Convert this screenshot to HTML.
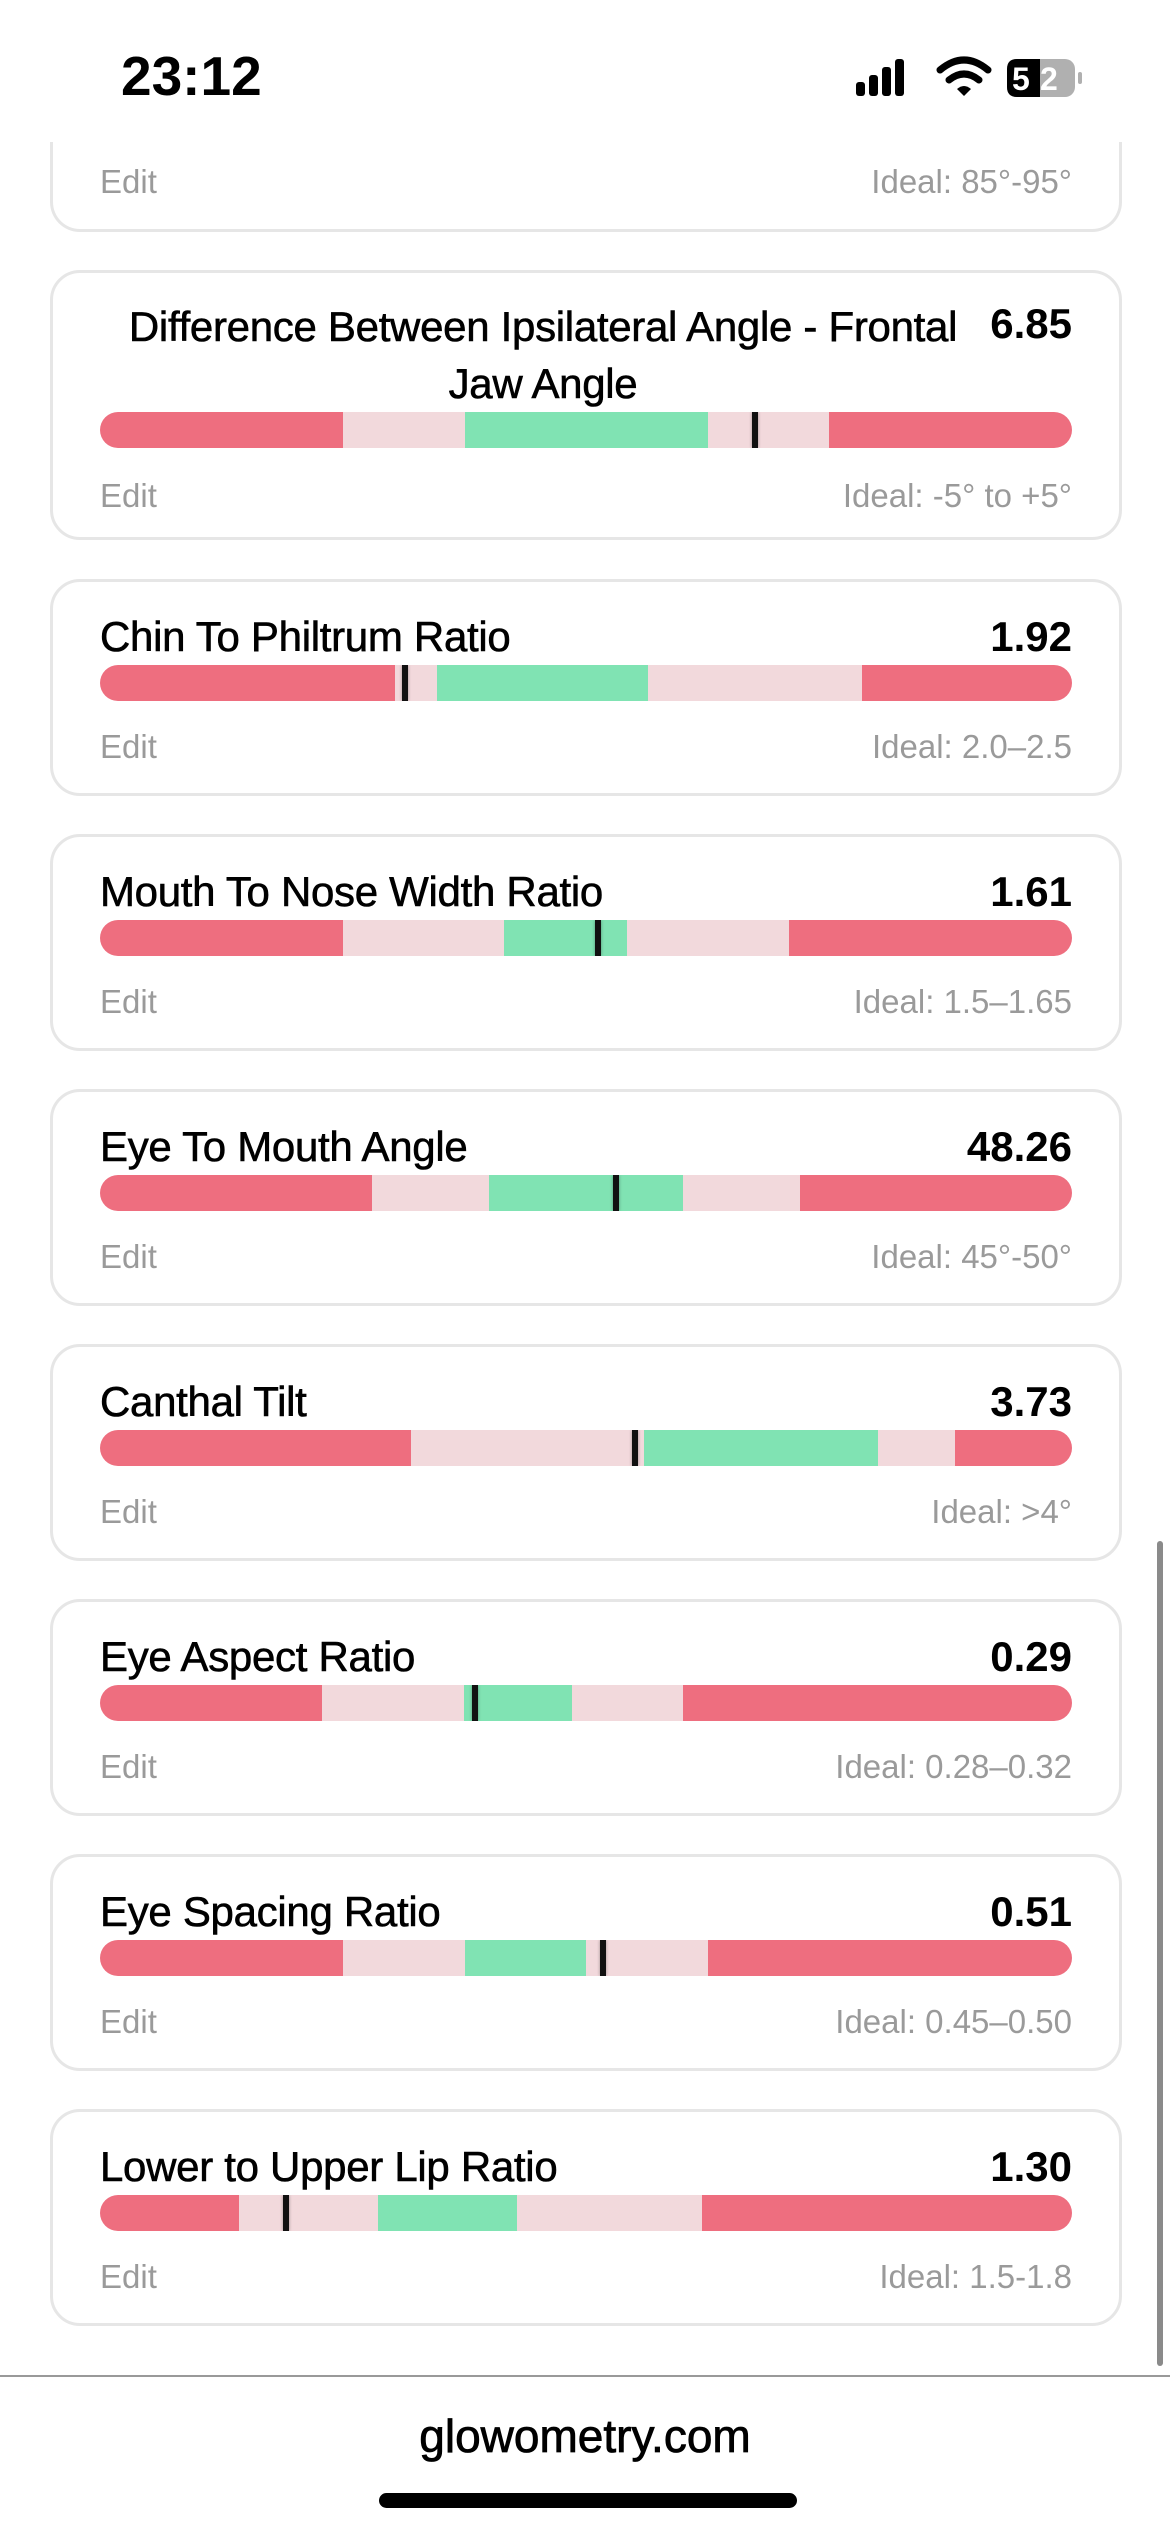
<!DOCTYPE html>
<html><head><meta charset="utf-8"><style>
*{margin:0;padding:0;box-sizing:border-box}
body{width:1170px;height:2532px;background:#fff;position:relative;overflow:hidden;font-family:"Liberation Sans",sans-serif;color:#000}
.card{position:absolute;left:50px;width:1072px;border:3px solid #e6e6e6;border-radius:30px;background:#fff}
.t{position:absolute;left:47px;font-size:42px;line-height:46px;-webkit-text-stroke:0.6px #000;letter-spacing:-0.3px}
.v{position:absolute;right:47px;font-size:42px;line-height:46px;font-weight:bold}
.bar{position:absolute;left:47px;width:972px;height:36px;border-radius:18px;overflow:hidden;display:flex}
.bar div{height:100%}
.r{background:#ee6e7f}.l{background:#f2d9dc}.g{background:#80e3b3}
.m{position:absolute;top:0;width:6px;height:36px;background:#111;box-shadow:0 0 3px rgba(0,0,0,.35)}
.e{position:absolute;left:47px;font-size:33px;color:#9a9a9a;line-height:36px}
.i{position:absolute;right:47px;font-size:33px;color:#9a9a9a;line-height:36px}
</style></head><body>
<div style="position:absolute;left:121px;top:46px;font-size:55px;font-weight:bold;line-height:60px">23:12</div>
<svg style="position:absolute;left:850px;top:56px" width="250" height="44" viewBox="0 0 250 44">
<rect x="6" y="26" width="9" height="14" rx="3"/><rect x="19" y="19" width="9" height="21" rx="3"/><rect x="32" y="11" width="9" height="29" rx="3"/><rect x="45" y="3" width="9" height="37" rx="3"/>
<path d="M90 14 Q114 -6 138 14" stroke="#000" stroke-width="7" fill="none" stroke-linecap="round"/>
<path d="M99 24 Q114 12 129 24" stroke="#000" stroke-width="7" fill="none" stroke-linecap="round"/>
<path d="M107 33 L114 40 L121 33 Q114 27 107 33Z"/>
<rect x="157" y="3" width="68" height="38" rx="10" fill="#b0b0b0"/>
<path d="M167 3 H190 V41 H167 Q157 41 157 31 V13 Q157 3 167 3Z" fill="#000"/>
<text x="162" y="34" font-size="32" font-weight="bold" fill="#fff" font-family="Liberation Sans">5</text>
<text x="190" y="34" font-size="32" font-weight="bold" fill="#fff" font-family="Liberation Sans">2</text>
<rect x="228" y="16" width="4" height="12" rx="2" fill="#b0b0b0"/>
</svg>

<div class="card" style="top:142px;height:90px;border-top:none;border-radius:0 0 30px 30px">
<div class="e" style="top:22px">Edit</div><div class="i" style="top:22px">Ideal: 85°-95°</div></div>

<div class="card" style="top:270px;height:270px">
<div style="position:absolute;left:40px;width:900px;top:25px;text-align:center;font-size:42px;line-height:57px;-webkit-text-stroke:0.6px #000;letter-spacing:-0.3px">Difference Between Ipsilateral Angle - Frontal<br>Jaw Angle</div>
<div class="v" style="top:28px">6.85</div>
<div class="bar" style="top:139px"><div class="r" style="width:25%"></div><div class="l" style="width:12.5%"></div><div class="g" style="width:25%"></div><div class="l" style="width:12.5%"></div><div class="r" style="width:25%"></div><div class="m" style="left:652px"></div></div>
<div class="e" style="top:205px">Edit</div><div class="i" style="top:205px">Ideal: -5° to +5°</div></div>

<div class="card" style="top:579px;height:217px">
<div class="t" style="top:32px">Chin To Philtrum Ratio</div><div class="v" style="top:32px">1.92</div>
<div class="bar" style="top:83px"><div class="r" style="width:30.4%"></div><div class="l" style="width:4.3%"></div><div class="g" style="width:21.7%"></div><div class="l" style="width:22%"></div><div class="r" style="width:21.6%"></div><div class="m" style="left:302px"></div></div>
<div class="e" style="top:147px">Edit</div><div class="i" style="top:147px">Ideal: 2.0–2.5</div></div>

<div class="card" style="top:834px;height:217px">
<div class="t" style="top:32px">Mouth To Nose Width Ratio</div><div class="v" style="top:32px">1.61</div>
<div class="bar" style="top:83px"><div class="r" style="width:25%"></div><div class="l" style="width:16.6%"></div><div class="g" style="width:12.6%"></div><div class="l" style="width:16.7%"></div><div class="r" style="width:29.1%"></div><div class="m" style="left:495px"></div></div>
<div class="e" style="top:147px">Edit</div><div class="i" style="top:147px">Ideal: 1.5–1.65</div></div>

<div class="card" style="top:1089px;height:217px">
<div class="t" style="top:32px">Eye To Mouth Angle</div><div class="v" style="top:32px">48.26</div>
<div class="bar" style="top:83px"><div class="r" style="width:28%"></div><div class="l" style="width:12%"></div><div class="g" style="width:20%"></div><div class="l" style="width:12%"></div><div class="r" style="width:28%"></div><div class="m" style="left:513px"></div></div>
<div class="e" style="top:147px">Edit</div><div class="i" style="top:147px">Ideal: 45°-50°</div></div>

<div class="card" style="top:1344px;height:217px">
<div class="t" style="top:32px">Canthal Tilt</div><div class="v" style="top:32px">3.73</div>
<div class="bar" style="top:83px"><div class="r" style="width:32%"></div><div class="l" style="width:24%"></div><div class="g" style="width:24%"></div><div class="l" style="width:8%"></div><div class="r" style="width:12%"></div><div class="m" style="left:532px"></div></div>
<div class="e" style="top:147px">Edit</div><div class="i" style="top:147px">Ideal: &gt;4°</div></div>

<div class="card" style="top:1599px;height:217px">
<div class="t" style="top:32px">Eye Aspect Ratio</div><div class="v" style="top:32px">0.29</div>
<div class="bar" style="top:83px"><div class="r" style="width:22.8%"></div><div class="l" style="width:14.6%"></div><div class="g" style="width:11.2%"></div><div class="l" style="width:11.4%"></div><div class="r" style="width:40%"></div><div class="m" style="left:372px"></div></div>
<div class="e" style="top:147px">Edit</div><div class="i" style="top:147px">Ideal: 0.28–0.32</div></div>

<div class="card" style="top:1854px;height:217px">
<div class="t" style="top:32px">Eye Spacing Ratio</div><div class="v" style="top:32px">0.51</div>
<div class="bar" style="top:83px"><div class="r" style="width:25%"></div><div class="l" style="width:12.6%"></div><div class="g" style="width:12.4%"></div><div class="l" style="width:12.6%"></div><div class="r" style="width:37.4%"></div><div class="m" style="left:500px"></div></div>
<div class="e" style="top:147px">Edit</div><div class="i" style="top:147px">Ideal: 0.45–0.50</div></div>

<div class="card" style="top:2109px;height:217px">
<div class="t" style="top:32px">Lower to Upper Lip Ratio</div><div class="v" style="top:32px">1.30</div>
<div class="bar" style="top:83px"><div class="r" style="width:14.3%"></div><div class="l" style="width:14.3%"></div><div class="g" style="width:14.3%"></div><div class="l" style="width:19%"></div><div class="r" style="width:38.1%"></div><div class="m" style="left:183px"></div></div>
<div class="e" style="top:147px">Edit</div><div class="i" style="top:147px">Ideal: 1.5-1.8</div></div>

<div style="position:absolute;left:1157px;top:1541px;width:6px;height:825px;border-radius:3px;background:#8a8a8a"></div>
<div style="position:absolute;left:0;top:2375px;width:1170px;height:2px;background:#999"></div>
<div style="position:absolute;left:0;width:1170px;top:2409px;text-align:center;font-size:46px;line-height:54px;-webkit-text-stroke:0.8px #000">glowometry.com</div>
<div style="position:absolute;left:379px;top:2493px;width:418px;height:15px;border-radius:8px;background:#000"></div>
</body></html>
